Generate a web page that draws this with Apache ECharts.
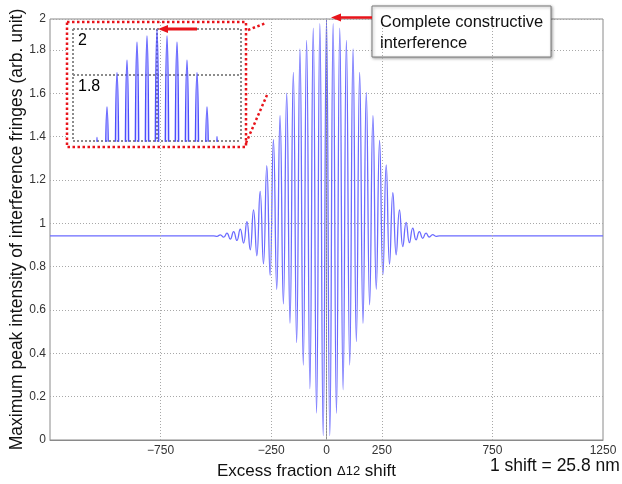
<!DOCTYPE html>
<html>
<head>
<meta charset="utf-8">
<script src="https://cdn.jsdelivr.net/npm/echarts@6/dist/echarts.min.js"></script>
<style>html,body{margin:0;padding:0;background:#fff}#c{width:622px;height:484px}</style>
</head>
<body>
<div id="c"></div>
<script>
// Excess fraction shift positions (Δ12 shift units)
const shiftX = [-1250, -510, -495, -480, -465, -450, -435, -420, -405, -390, -375, -360, -345, -330, -315, -300, -285, -270, -255, -240, -225, -210, -195, -180, -165, -150, -135, -120, -105, -90, -75, -60, -45, -30, -15, 0, 15, 30, 45, 60, 75, 90, 105, 120, 135, 150, 165, 180, 195, 210, 225, 240, 255, 270, 285, 300, 315, 330, 345, 360, 375, 390, 405, 420, 435, 450, 465, 480, 495, 510, 1250];
// Maximum peak intensity of interference fringes (arb. unit)
const intensity = [0.942, 0.942, 0.940, 0.947, 0.936, 0.955, 0.927, 0.962, 0.921, 0.973, 0.909, 1.008, 0.878, 1.062, 0.850, 1.147, 0.813, 1.266, 0.760, 1.386, 0.695, 1.497, 0.628, 1.601, 0.539, 1.697, 0.450, 1.805, 0.346, 1.844, 0.237, 1.901, 0.124, 1.921, 0.020, 1.943, 0.020, 1.921, 0.123, 1.901, 0.233, 1.844, 0.346, 1.805, 0.454, 1.697, 0.539, 1.604, 0.624, 1.497, 0.696, 1.383, 0.762, 1.270, 0.811, 1.141, 0.855, 1.062, 0.893, 1.004, 0.911, 0.978, 0.924, 0.962, 0.931, 0.955, 0.937, 0.948, 0.940, 0.942, 0.942];
// Labelled x ticks (with vertical grid lines)
const xTickLabels = [-750, -250, 0, 250, 750, 1250];
const xGridLines = [-750, -250, 0, 250, 750];
// Inset labelled levels
const insetLevels = [1.8, 1.943];
const insetLevelLabels = ['1.8', '2'];

const seriesData = shiftX.map((x, i) => [x, intensity[i]]);
const FONT = "'Liberation Sans', Arial, Helvetica, sans-serif";
const fmtNum = v => (v < 0 ? '\u2212' : '') + Math.abs(v);

const chart = echarts.init(document.getElementById('c'), null, {renderer: 'canvas'});
chart.setOption({
  animation: false,
  backgroundColor: '#fff',
  textStyle: {fontFamily: FONT},
  grid: [
    {left: 50, right: 19, top: 19, bottom: 44, show: true, borderColor: '#8a8a8a', borderWidth: 1, backgroundColor: '#fff', containLabel: false, outerBoundsMode: 'none'},
    {left: 73, top: 29, width: 168, height: 112, show: false, containLabel: false, outerBoundsMode: 'none'}
  ],
  xAxis: [
    {
      type: 'value', gridIndex: 0, min: -1250, max: 1250, interval: 250,
      axisLine: {show: true, onZero: false, lineStyle: {color: '#8a8a8a'}},
      axisTick: {show: false},
      splitLine: {show: false},
      axisLabel: {
        color: '#333', fontSize: 12, margin: 5, fontFamily: FONT,
        formatter: v => xTickLabels.indexOf(v) >= 0 ? fmtNum(v) : ''
      },
      name: '{a|Excess fraction }{s|\u039412}{a| shift}',
      nameLocation: 'middle', nameGap: 23, nameMoveOverlap: false,
      nameTextStyle: {
        padding: [0, 40, 0, 0],
        rich: {
          a: {fontSize: 17, color: '#111', fontFamily: FONT},
          s: {fontSize: 13, color: '#111', fontFamily: FONT}
        }
      }
    },
    {
      type: 'value', gridIndex: 1, min: -252, max: 252, interval: 252, z: 6,
      axisLine: {show: false}, axisTick: {show: false}, axisLabel: {show: false},
      splitLine: {show: true, lineStyle: {color: '#8c8c8c', width: 2, type: [2, 2]}}
    }
  ],
  yAxis: [
    {
      type: 'value', gridIndex: 0, min: 0, max: 1.943, interval: 0.2,
      axisLine: {show: true, lineStyle: {color: '#8a8a8a'}},
      axisTick: {show: false},
      splitLine: {show: true, lineStyle: {color: '#a8a8a8', type: [1, 2], width: 1}},
      axisLabel: {
        color: '#333', fontSize: 12, margin: 4, fontFamily: FONT,
        formatter: v => v > 1.9 ? '2' : String(Number(v.toFixed(1)))
      },
      name: 'Maximum peak intensity of interference fringes (arb. unit)',
      nameLocation: 'middle', nameGap: 24, nameMoveOverlap: false,
      nameTextStyle: {fontSize: 17.5, color: '#111', fontFamily: FONT}
    },
    {
      type: 'value', gridIndex: 1, min: 1.59, max: 1.943, interval: 0.21, z: 6,
      axisLine: {show: false}, axisTick: {show: false},
      splitLine: {show: true, lineStyle: {color: '#8c8c8c', width: 2, type: [2, 2]}},
      axisLabel: {
        show: true, inside: true, margin: 5, color: '#000', fontSize: 16, fontFamily: FONT,
        verticalAlign: 'top', padding: [4, 0, 0, 0],
        formatter: v => {
          for (let i = 0; i < insetLevels.length; i++) if (Math.abs(v - insetLevels[i]) < 0.005) return insetLevelLabels[i];
          return '';
        }
      }
    }
  ],
  graphic: [
    {type: 'rect', z: 5, shape: {x: 67, y: 22, width: 179, height: 125},
     style: {fill: '#fff', stroke: '#e8141b', lineWidth: 2.5, lineDash: [2.5, 2.5]}},
    {type: 'line', z: 5, shape: {x1: 248, y1: 30, x2: 266, y2: 23}, style: {stroke: '#e8141b', lineWidth: 2.5, lineDash: [2.5, 2.5]}},
    {type: 'line', z: 5, shape: {x1: 246, y1: 143, x2: 267, y2: 95}, style: {stroke: '#e8141b', lineWidth: 2.5, lineDash: [2.5, 2.5]}},
    // inset arrow
    {type: 'line', z: 9, shape: {x1: 197, y1: 29, x2: 166, y2: 29}, style: {stroke: '#e8141b', lineWidth: 3}},
    {type: 'polygon', z: 9, shape: {points: [[158, 29], [168, 25], [168, 33]]}, style: {fill: '#e8141b'}},
    // annotation box
    {type: 'rect', z: 5, shape: {x: 372, y: 6, width: 179, height: 51},
     style: {fill: '#fff', stroke: '#7a7a7a', lineWidth: 1, shadowBlur: 3, shadowOffsetX: 1, shadowOffsetY: 1, shadowColor: 'rgba(0,0,0,0.35)'}},
    {type: 'text', z: 6, style: {x: 380, y: 12, text: 'Complete constructive\ninterference', fontSize: 16.5, lineHeight: 21, fill: '#111', fontFamily: FONT}},
    {type: 'line', z: 6, shape: {x1: 372, y1: 17.5, x2: 340, y2: 17.5}, style: {stroke: '#e8141b', lineWidth: 2.5}},
    {type: 'polygon', z: 6, shape: {points: [[331, 17.5], [341, 13.5], [341, 21.5]]}, style: {fill: '#e8141b'}},
    {type: 'text', z: 6, style: {x: 490, y: 457, text: '1 shift = 25.8 nm', fontSize: 17.5, fill: '#111', fontFamily: FONT}}
  ],
  series: [
    {
      type: 'line', xAxisIndex: 0, yAxisIndex: 0, data: seriesData,
      smooth: 0.5, showSymbol: false, symbol: 'none', z: 2,
      lineStyle: {color: '#6b6bff', width: 1.3},
      markLine: {
        silent: true, symbol: 'none', label: {show: false},
        lineStyle: {color: '#a8a8a8', type: [1, 2], width: 1},
        data: xGridLines.map(v => ({xAxis: v}))
      }
    },
    {
      type: 'line', xAxisIndex: 1, yAxisIndex: 1, data: seriesData,
      smooth: 0.5, showSymbol: false, symbol: 'none', z: 7, clip: true,
      lineStyle: {color: '#4d4dff', width: 1.6}
    }
  ]
});
</script>
</body>
</html>
